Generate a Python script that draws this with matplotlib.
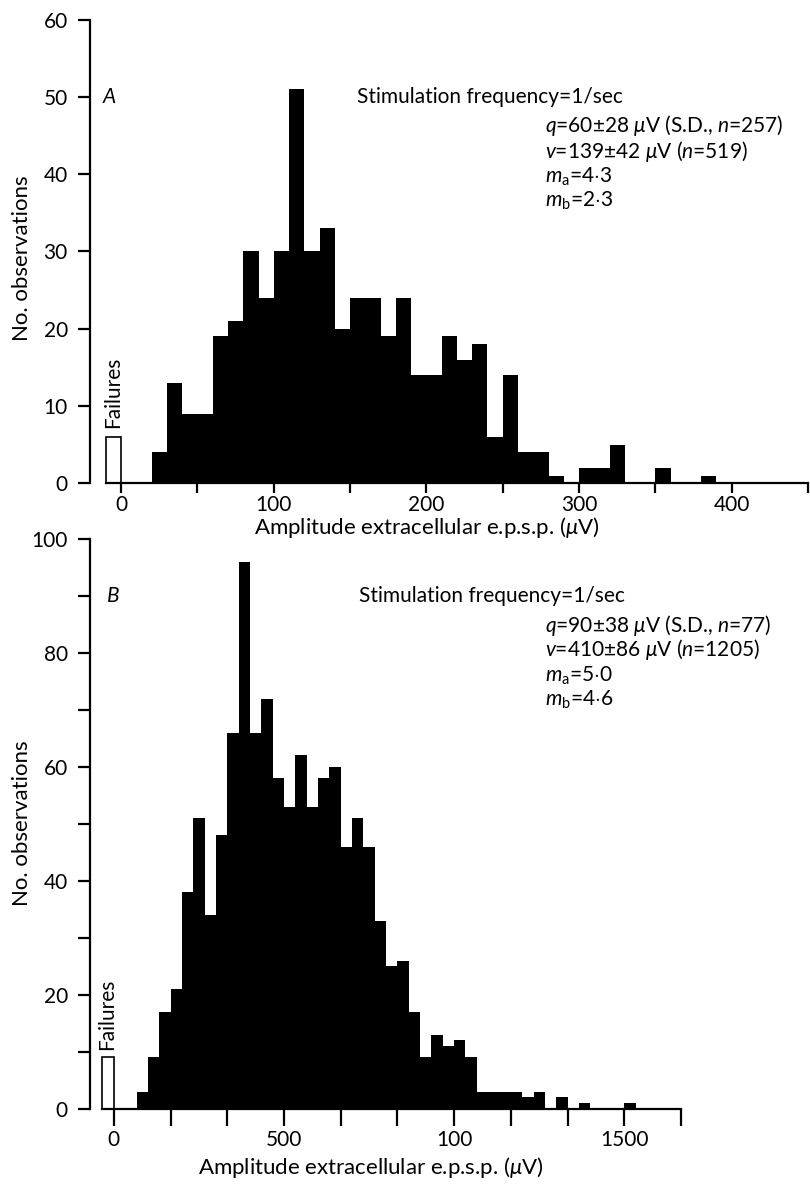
import numpy as np
import matplotlib
matplotlib.use('Agg')
import matplotlib.pyplot as plt

plt.rcParams['font.family'] = ['Lato', 'DejaVu Sans']
plt.rcParams['mathtext.fontset'] = 'custom'
plt.rcParams['mathtext.rm'] = 'Lato'
plt.rcParams['mathtext.it'] = 'Lato:italic'
plt.rcParams['mathtext.bf'] = 'Lato:bold'

# Panel A: 10 uV bins, first filled bin starts at 20 uV
a_bin = 10.0
a_first = 20.0
a_counts = [4, 13, 9, 9, 19, 21, 30, 24, 30, 51,
            30, 33, 20, 24, 24, 19, 24, 14, 14, 19,
            16, 18, 6, 14, 4, 4, 1, 0, 2, 2,
            5, 0, 0, 2, 0, 0, 1]
a_failures = 6
a_xmajor = [0, 100, 200, 300, 400]
a_xlabels = ['0', '100', '200', '300', '400']
a_yticks = [0, 10, 20, 30, 40, 50, 60]
a_ylabels = ['0', '10', '20', '30', '40', '50', '60']

# Panel B: 33.3 uV bins, first filled bin starts at 66.7 uV
b_bin = 100 / 3
b_first = 200 / 3
b_counts = [3, 9, 17, 21, 38, 51, 34, 48, 66, 96,
            66, 72, 58, 53, 62, 53, 58, 60, 46, 51,
            46, 33, 25, 26, 17, 9, 13, 11, 12, 9,
            3, 3, 3, 3, 2, 3, 0, 2, 0, 1,
            0, 0, 0, 1]
b_failures = 9
b_xmajor = [0, 500, 1000, 1500]
b_xlabels = ['0', '500', '100', '1500']
b_yticks = [0, 20, 40, 60, 80, 100]
b_ylabels = ['0', '20', '40', '60', '80', '100']

a_text = ['Stimulation frequency=1/sec',
          r'$q$=60$\pm$28 $\mu$V (S.D., $n$=257)',
          r'$v$=139$\pm$42 $\mu$V ($n$=519)',
          r'$m_{\rm a}$=4$\cdot$3',
          r'$m_{\rm b}$=2$\cdot$3']
b_text = ['Stimulation frequency=1/sec',
          r'$q$=90$\pm$38 $\mu$V (S.D., $n$=77)',
          r'$v$=410$\pm$86 $\mu$V ($n$=1205)',
          r'$m_{\rm a}$=5$\cdot$0',
          r'$m_{\rm b}$=4$\cdot$6']

W, H = 810, 1186
FS = 15
fig = plt.figure(figsize=(W / 100, H / 100), dpi=100)


def px_axes(left, top, right, bottom):
    return fig.add_axes([left / W, 1 - bottom / H, (right - left) / W, (bottom - top) / H])


def ftext(x, y, s, **kw):
    kw.setdefault('va', 'center')
    kw.setdefault('fontsize', FS)
    fig.text(x / W, 1 - y / H, s, **kw)


def style(ax, xmin, xmax, ymax, bin_w, xmajor, xlabels, yticks, ylabels,
          yminor, xminor, xtick_len, xpad):
    ax.set_xlim(xmin, xmax)
    ax.set_ylim(0, ymax)
    for s in ('top', 'right'):
        ax.spines[s].set_visible(False)
    ax.spines['left'].set_bounds(0, ymax)
    ax.spines['bottom'].set_bounds(-bin_w, xmax)
    for s in ('left', 'bottom'):
        ax.spines[s].set_linewidth(1.6)
    ax.set_xticks(xmajor)
    ax.set_xticklabels(xlabels)
    ax.set_xticks(xminor, minor=True)
    ax.set_yticks(yticks)
    ax.set_yticklabels(ylabels)
    ax.set_yticks(yminor, minor=True)
    ax.tick_params(which='both', direction='out', width=1.6, labelsize=FS)
    ax.tick_params(axis='y', which='both', length=9, pad=7)
    ax.tick_params(axis='x', which='both', length=xtick_len, pad=xpad)
    ax.patch.set_visible(False)


def draw(ax, first, bw, counts, failures):
    edges = first + bw * np.arange(len(counts) + 1)
    ax.stairs(counts, edges, fill=True, color='black', linewidth=0)
    ax.bar(-bw, failures, width=bw, align='edge', fill=False, edgecolor='black', linewidth=1.2)


# Panel A
axA = px_axes(90, 19.5, 808, 483.3)
draw(axA, a_first, a_bin, a_counts, a_failures)
style(axA, -20.4, 450, 60, a_bin, a_xmajor, a_xlabels, a_yticks, a_ylabels,
      [], np.arange(50, 451, 100), 7, 1.5)
ftext(22, 258, 'No. observations', rotation=90, ha='center', fontsize=16)
ftext(427, 528, r'Amplitude extracellular e.p.s.p. ($\mu$V)', ha='center', fontsize=16)
ftext(113, 392, 'Failures', rotation=90, ha='center')
ftext(103, 97, 'A', style='italic', ha='left')
ftext(357, 97, a_text[0], ha='left')
for i, s in enumerate(a_text[1:]):
    ftext(545, [126, 152, 177, 201][i], s, ha='left')

# Panel B
axB = px_axes(90, 539, 681, 1108.7)
draw(axB, b_first, b_bin, b_counts, b_failures)
style(axB, -70, 5000 / 3, 100, b_bin, b_xmajor, b_xlabels, b_yticks, b_ylabels,
      np.arange(10, 100, 20), np.arange(1, 11) * 500 / 3, 12, 3)
ftext(22, 823, 'No. observations', rotation=90, ha='center', fontsize=16)
ftext(371, 1168, r'Amplitude extracellular e.p.s.p. ($\mu$V)', ha='center', fontsize=16)
ftext(107, 1014, 'Failures', rotation=90, ha='center')
ftext(107, 596, 'B', style='italic', ha='left')
ftext(359, 596, b_text[0], ha='left')
for i, s in enumerate(b_text[1:]):
    ftext(545, [626, 650, 676, 700][i], s, ha='left')

fig.savefig('out.png', dpi=100)
